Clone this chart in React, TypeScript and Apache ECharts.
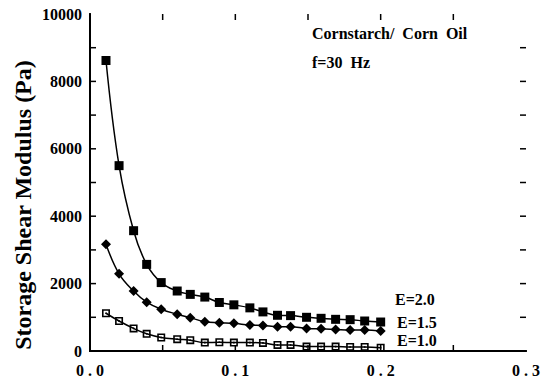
import React, { useEffect, useRef } from "react";
import * as echarts from "echarts";

const xValues = [0.011, 0.02, 0.03, 0.039, 0.049, 0.06, 0.069, 0.079, 0.089, 0.099, 0.11, 0.119, 0.129, 0.138, 0.149, 0.159, 0.169, 0.179, 0.189, 0.2];
const e20 = [8620, 5500, 3570, 2570, 2030, 1780, 1680, 1600, 1440, 1370, 1280, 1160, 1060, 1050, 1000, 970, 940, 930, 890, 860];
const e15 = [3170, 2290, 1780, 1450, 1240, 1090, 990, 870, 840, 820, 770, 760, 720, 720, 670, 660, 640, 620, 620, 590];
const e10 = [1120, 890, 670, 510, 400, 350, 320, 250, 260, 250, 250, 240, 180, 180, 130, 130, 130, 120, 120, 100];
const seriesNames = ["E=2.0", "E=1.5", "E=1.0"];
const xTicks = [0.05, 0.1, 0.15, 0.2, 0.25];
const yTicks = [1000, 2000, 3000, 4000, 5000, 6000, 7000, 8000, 9000];
const X_MIN = 0, X_MAX = 0.3, Y_MIN = 0, Y_MAX = 10000;
const yTitle = "Storage Shear Modulus (Pa)";
const note1 = "Cornstarch/  Corn  Oil";
const note2 = "f=30  Hz";

const FONT = "'Liberation Serif', 'DejaVu Serif', serif";
const openSquare = "path://M0,0H10V10H0Z M2,2V8H8V2Z M4,4H6V6H4Z";
const TICK = 6;

export default function App() {
  const ref = useRef<HTMLDivElement>(null);
  useEffect(() => {
    if (!ref.current) return;
    const chart = echarts.init(ref.current, null, { renderer: "svg" });
    const mkLine = () => ({ show: true, lineStyle: { color: "#000", width: 2 } });
    const lbl = { fontFamily: FONT, fontWeight: "bold" as const, fontSize: 16, color: "#000" };
    const tickStyle = { stroke: "#000", lineWidth: 1.5 };
    const mk = (name: string, vals: number[], symbol: string, size: number) => ({
      type: "line" as const,
      name,
      data: xValues.map((x, i) => [x, vals[i]]),
      smooth: 0.4,
      symbol,
      symbolSize: size,
      showAllSymbol: true,
      lineStyle: { color: "#000", width: 1.5 },
      itemStyle: { color: "#000", opacity: 1 },
      xAxisIndex: 0,
      yAxisIndex: 0,
      z: 3,
    });
    chart.setOption({
      animation: false,
      backgroundColor: "#fff",
      grid: { left: 90, right: 13, top: 14, bottom: 32 },
      xAxis: [
        {
          type: "value", position: "bottom", min: X_MIN, max: X_MAX, interval: 0.1,
          axisLine: mkLine(), axisTick: { show: false }, splitLine: { show: false },
          axisLabel: {
            ...lbl, margin: 11, showMinLabel: true, showMaxLabel: true,
            formatter: (v: number) => v.toFixed(1).replace(".", " . "),
          },
        },
        {
          type: "value", position: "top", min: X_MIN, max: X_MAX, interval: 0.1,
          axisLine: mkLine(), axisTick: { show: false }, splitLine: { show: false }, axisLabel: { show: false },
        },
      ],
      yAxis: [
        {
          type: "value", position: "left", min: Y_MIN, max: Y_MAX, interval: 2000,
          axisLine: mkLine(), axisTick: { show: false }, splitLine: { show: false },
          axisLabel: {
            ...lbl, margin: 8, showMinLabel: true, showMaxLabel: true,
            formatter: (v: number) => String(Math.round(v)),
          },
        },
        {
          type: "value", position: "right", min: Y_MIN, max: Y_MAX, interval: 2000,
          axisLine: mkLine(), axisTick: { show: false }, splitLine: { show: false }, axisLabel: { show: false },
        },
      ],
      series: [
        mk(seriesNames[0], e20, "rect", 9),
        mk(seriesNames[1], e15, "diamond", 10),
        mk(seriesNames[2], e10, openSquare, 8),
        {
          type: "custom",
          name: "xticks",
          xAxisIndex: 0, yAxisIndex: 0,
          silent: true,
          clip: false,
          data: xTicks.map((v) => [v, Y_MIN]),
          renderItem: (params: any, api: any) => {
            const v = api.value(0);
            const b = api.coord([v, Y_MIN]);
            const t = api.coord([v, Y_MAX]);
            return {
              type: "group",
              children: [
                { type: "line", shape: { x1: b[0], y1: b[1], x2: b[0], y2: b[1] - TICK }, style: tickStyle },
                { type: "line", shape: { x1: t[0], y1: t[1], x2: t[0], y2: t[1] + TICK }, style: tickStyle },
              ],
            };
          },
        },
        {
          type: "custom",
          name: "yticks",
          xAxisIndex: 0, yAxisIndex: 0,
          silent: true,
          clip: false,
          data: yTicks.map((v) => [X_MIN, v]),
          renderItem: (params: any, api: any) => {
            const v = api.value(1);
            const l = api.coord([X_MIN, v]);
            const r = api.coord([X_MAX, v]);
            return {
              type: "group",
              children: [
                { type: "line", shape: { x1: l[0], y1: l[1], x2: l[0] + TICK, y2: l[1] }, style: tickStyle },
                { type: "line", shape: { x1: r[0], y1: r[1], x2: r[0] - TICK, y2: r[1] }, style: tickStyle },
              ],
            };
          },
        },
      ],
      graphic: [
        {
          type: "text", x: 23, y: 205, rotation: Math.PI / 2,
          style: { text: yTitle, fontFamily: FONT, fontWeight: "bold", fontSize: 24, fill: "#000", align: "center", verticalAlign: "middle" },
        },
        {
          type: "text", x: 312, y: 33,
          style: { text: note1, fontFamily: FONT, fontWeight: "bold", fontSize: 16, fill: "#000", align: "left", verticalAlign: "middle" },
        },
        {
          type: "text", x: 312, y: 62,
          style: { text: note2, fontFamily: FONT, fontWeight: "bold", fontSize: 16, fill: "#000", align: "left", verticalAlign: "middle" },
        },
        {
          type: "text", x: 395, y: 299,
          style: { text: seriesNames[0], fontFamily: FONT, fontWeight: "bold", fontSize: 16, fill: "#000", align: "left", verticalAlign: "middle" },
        },
        {
          type: "text", x: 397, y: 322,
          style: { text: seriesNames[1], fontFamily: FONT, fontWeight: "bold", fontSize: 16, fill: "#000", align: "left", verticalAlign: "middle" },
        },
        {
          type: "text", x: 397, y: 340,
          style: { text: seriesNames[2], fontFamily: FONT, fontWeight: "bold", fontSize: 16, fill: "#000", align: "left", verticalAlign: "middle" },
        },
      ],
    });
    return () => chart.dispose();
  }, []);
  return <div ref={ref} style={{ width: 543, height: 383, position: "absolute", left: 0, top: 0 }} />;
}
